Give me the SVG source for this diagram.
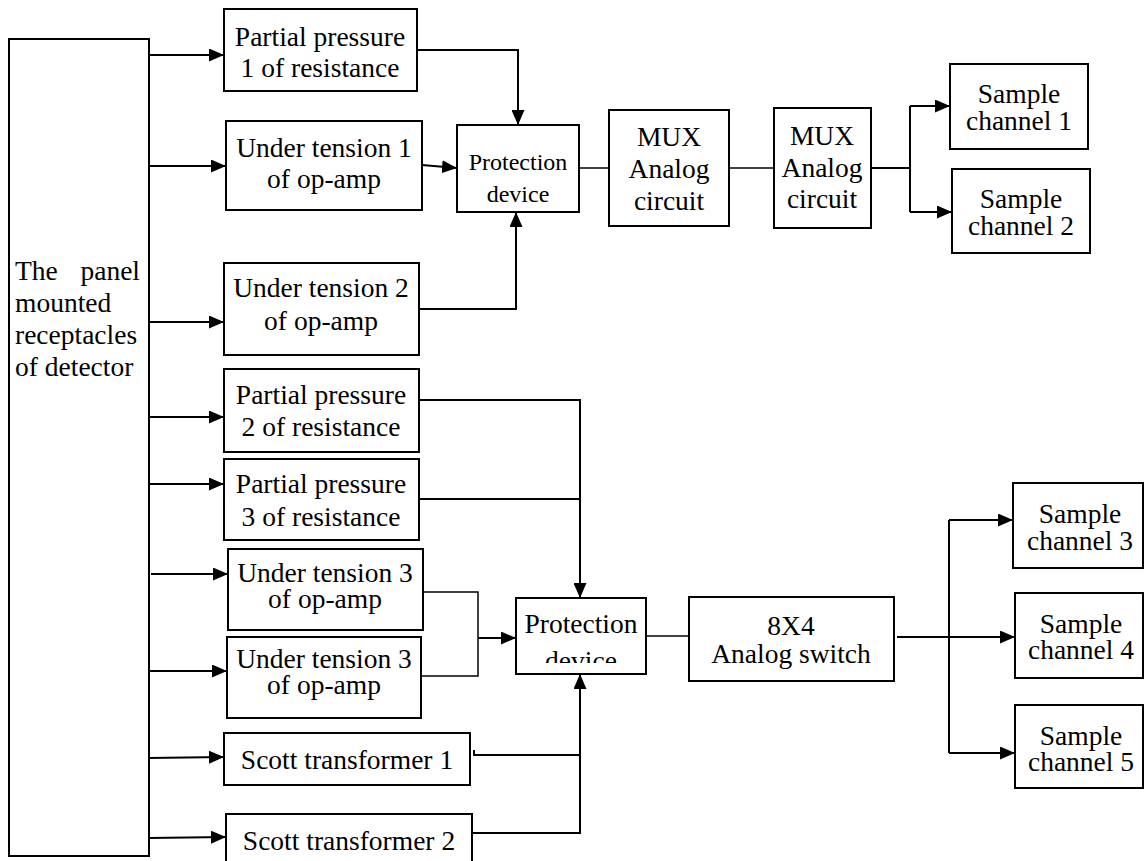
<svg xmlns="http://www.w3.org/2000/svg" width="1145" height="861" viewBox="0 0 1145 861">
<style>
.box{fill:#fff;stroke:#000;stroke-width:2}
text{font-family:'Liberation Serif','Times New Roman',Times,'DejaVu Serif',serif;font-size:27.5px;fill:#000}
.t{text-anchor:middle}
.ts{font-size:24px;text-anchor:middle}
.c{fill:none;stroke:#000;stroke-width:2}
.a{marker-end:url(#ah)}
</style>
<defs>
<marker id="ah" markerUnits="userSpaceOnUse" markerWidth="15" markerHeight="13" refX="15" refY="6.5" orient="auto">
<path d="M0,0 L15,6.5 L0,13 z" fill="#000"/>
</marker>
<clipPath id="clipDev"><rect x="516" y="598" width="130" height="65"/></clipPath>
</defs>
<rect width="1145" height="861" fill="#fff"/>

<g id="connectors">
<path class="c a" d="M149,55 H224"/>
<path class="c a" d="M149,166 H226"/>
<path class="c a" d="M149,322 H224"/>
<path class="c a" d="M149,417 H224"/>
<path class="c a" d="M149,484 H224"/>
<path class="c a" d="M151,574 H228"/>
<path class="c a" d="M149,671 H227"/>
<path class="c a" d="M149,758 L224,757"/>
<path class="c a" d="M149,838 L226,837"/>
<path class="c a" d="M417,50 H518 V125"/>
<path class="c a" d="M422,165 L457,168"/>
<path class="c a" d="M419,309 H516 V212"/>
<path class="c" style="stroke-width:1.5" d="M579,168 H609"/>
<path class="c" style="stroke-width:1.5" d="M729,168 H774"/>
<path class="c" d="M871,168 H910"/>
<path class="c" d="M910,106 V212"/>
<path class="c a" d="M910,106 H950"/>
<path class="c a" d="M910,212 H952"/>
<path class="c a" d="M419,400 H580 V598"/>
<path class="c" d="M419,499 H580"/>
<path class="c" style="stroke-width:1.5" d="M421,592 H478 V676 H421"/>
<path class="c a" d="M478,638 H516"/>
<path class="c" d="M474,750 V755 H580"/>
<path class="c a" d="M472,833 H580 V674"/>
<path class="c" style="stroke-width:1.5" d="M646,636 H689"/>
<path class="c a" d="M897,637 H1015"/>
<path class="c" d="M949,520 V753"/>
<path class="c a" d="M949,520 H1013"/>
<path class="c a" d="M949,753 H1015"/>
</g>

<g id="panel">
<rect class="box" x="9" y="39" width="140" height="817"/>
<text x="15" y="280">The</text>
<text x="140" y="280" text-anchor="end">panel</text>
<text x="15" y="312">mounted</text>
<text x="15" y="344">receptacles</text>
<text x="15" y="376">of detector</text>
</g>

<g id="pp1">
<rect class="box" x="224" y="9" width="193" height="82"/>
<text class="t" x="320" y="46">Partial pressure</text>
<text class="t" x="320" y="77">1 of resistance</text>
</g>

<g id="ut1">
<rect class="box" x="226" y="121" width="196" height="89"/>
<text class="t" x="324" y="157">Under tension 1</text>
<text class="t" x="324" y="188">of op-amp</text>
</g>

<g id="ut2">
<rect class="box" x="224" y="263" width="195" height="92"/>
<text class="t" x="321" y="297">Under tension 2</text>
<text class="t" x="321" y="330">of op-amp</text>
</g>

<g id="pp2">
<rect class="box" x="224" y="369" width="195" height="83"/>
<text class="t" x="321" y="404">Partial pressure</text>
<text class="t" x="321" y="436">2 of resistance</text>
</g>

<g id="pp3">
<rect class="box" x="224" y="459" width="195" height="81"/>
<text class="t" x="321" y="493">Partial pressure</text>
<text class="t" x="321" y="526">3 of resistance</text>
</g>

<g id="ut3a">
<rect class="box" x="228" y="549" width="195" height="81"/>
<text class="t" x="325" y="582">Under tension 3</text>
<text class="t" x="325" y="608">of op-amp</text>
</g>

<g id="ut3b">
<rect class="box" x="227" y="637" width="194" height="81"/>
<text class="t" x="324" y="668">Under tension 3</text>
<text class="t" x="324" y="694">of op-amp</text>
</g>

<g id="scott1">
<rect class="box" x="224" y="733" width="246" height="52"/>
<text class="t" x="347" y="769">Scott transformer 1</text>
</g>

<g id="scott2">
<rect class="box" x="226" y="814" width="246" height="52"/>
<text class="t" x="349" y="850">Scott transformer 2</text>
</g>

<g id="prot1">
<rect class="box" x="457" y="125" width="122" height="87"/>
<text class="ts" x="518" y="170">Protection</text>
<text class="ts" x="518" y="202">device</text>
</g>

<g id="mux1">
<rect class="box" x="609" y="110" width="120" height="116"/>
<text class="t" x="669" y="146">MUX</text>
<text class="t" x="669" y="178">Analog</text>
<text class="t" x="669" y="210">circuit</text>
</g>

<g id="mux2">
<rect class="box" x="774" y="108" width="97" height="120"/>
<text class="t" x="822" y="145">MUX</text>
<text class="t" x="822" y="177">Analog</text>
<text class="t" x="822" y="208">circuit</text>
</g>

<g id="sc1">
<rect class="box" x="950" y="64" width="138" height="85"/>
<text class="t" x="1019" y="103">Sample</text>
<text class="t" x="1019" y="130">channel 1</text>
</g>

<g id="sc2">
<rect class="box" x="952" y="169" width="138" height="84"/>
<text class="t" x="1021" y="208">Sample</text>
<text class="t" x="1021" y="235">channel 2</text>
</g>

<g id="prot2">
<rect class="box" x="516" y="598" width="130" height="76"/>
<text class="t" x="581" y="633">Protection</text>
<text class="t" x="581" y="670" clip-path="url(#clipDev)">device</text>
</g>

<g id="switch">
<rect class="box" x="689" y="597" width="205" height="84"/>
<text class="t" x="791" y="635">8X4</text>
<text class="t" x="791" y="663">Analog switch</text>
</g>

<g id="sc3">
<rect class="box" x="1013" y="483" width="130" height="85"/>
<text class="t" x="1080" y="523">Sample</text>
<text class="t" x="1080" y="550">channel 3</text>
</g>

<g id="sc4">
<rect class="box" x="1015" y="593" width="128" height="85"/>
<text class="t" x="1081" y="633">Sample</text>
<text class="t" x="1081" y="659">channel 4</text>
</g>

<g id="sc5">
<rect class="box" x="1015" y="705" width="128" height="83"/>
<text class="t" x="1081" y="745">Sample</text>
<text class="t" x="1081" y="771">channel 5</text>
</g>
</svg>
